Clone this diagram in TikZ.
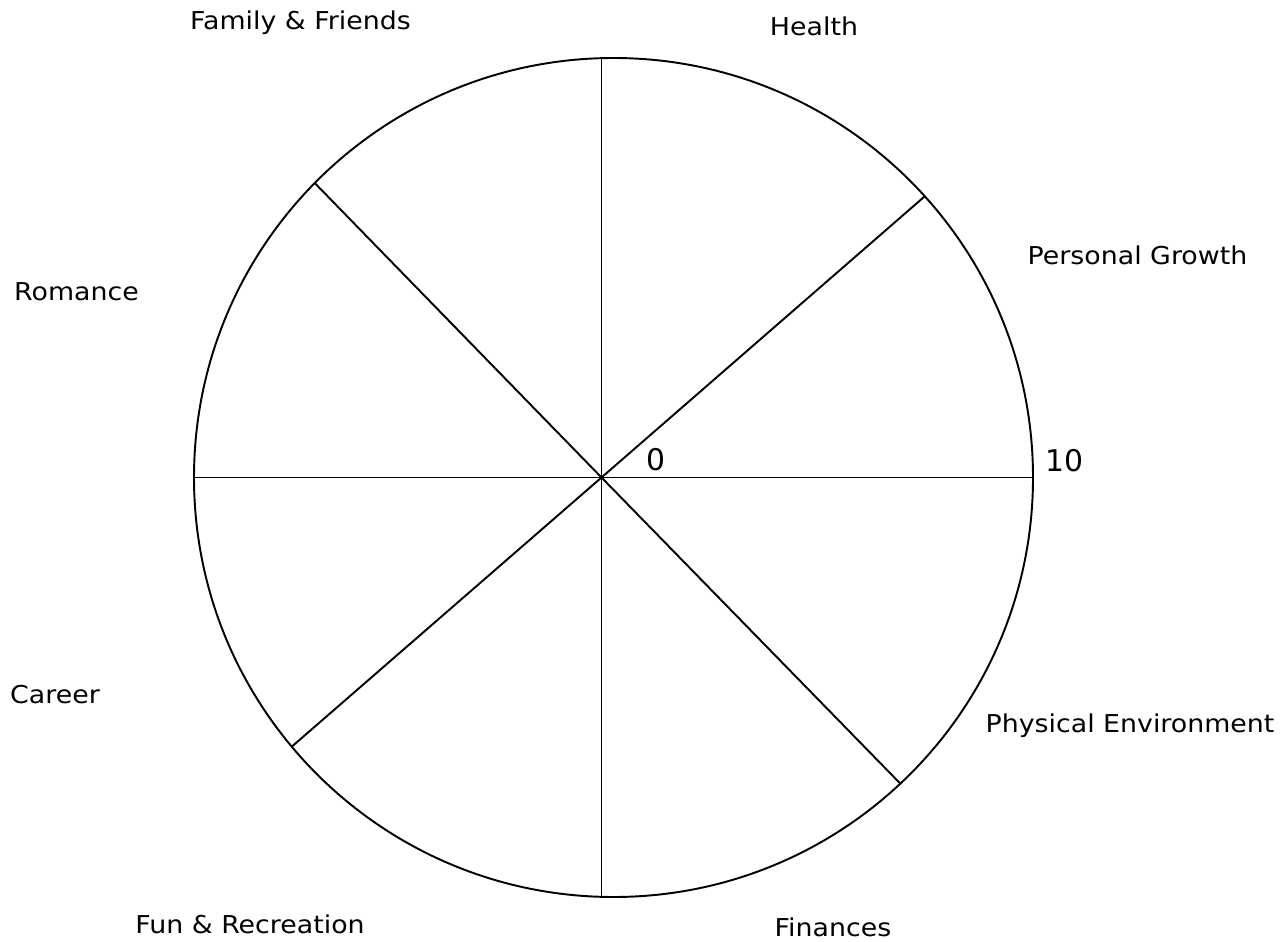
\documentclass[tikz,border=0pt]{standalone}
\usepackage{fontspec}
\setmainfont{DejaVu Sans}
\newfontfamily\labelfont[FakeStretch=1.09]{DejaVu Sans}
\usetikzlibrary{calc}

\begin{document}
\begin{tikzpicture}[
  x=0.02cm, y=-0.02cm,
  font=\labelfont\fontsize{14}{17}\selectfont,
  rim/.style={line width=1.1pt, draw=black},
  spoke/.style={line width=1.1pt, draw=black},
  area/.style={anchor=base, inner sep=0pt, text=black},
  scalemark/.style={anchor=base, inner sep=0pt, font=\normalfont\fontsize{17}{20}\selectfont}
]
\useasboundingbox (0,0) rectangle (1287,942);

\coordinate (hub) at (601.5,477.5);
\coordinate (centre) at (613.5,477.5);
\draw[rim] (centre) circle[radius=419.5];

\foreach \name/\px/\py in {
  n/601.5/58.2, ne/924.3/196.7, e/1033/477.5, se/901/784.3,
  s/601.5/896.8, sw/291.7/746.7, w/194/477.5, nw/315/183.3
} {
  \coordinate (rim\name) at (\px,\py);
  \draw[spoke] (hub) -- (rim\name);
}

\foreach \name/\px/\py/\txt in {
  family/300.5/29.5/Family \& Friends,
  health/814/35.5/Health,
  growth/1137.5/264.3/Personal Growth,
  romance/76.5/300.5/Romance,
  career/55/703.5/Career,
  fun/250/933.5/Fun \& Recreation,
  finances/833/936.5/Finances,
  environment/1130/732.3/Physical Environment
} {
  \node[area] (lbl\name) at (\px,\py) {\txt};
}

\node[scalemark] (zero) at (656,470) {0};
\node[scalemark] (ten) at (1064,471) {10};
\end{tikzpicture}
\end{document}
